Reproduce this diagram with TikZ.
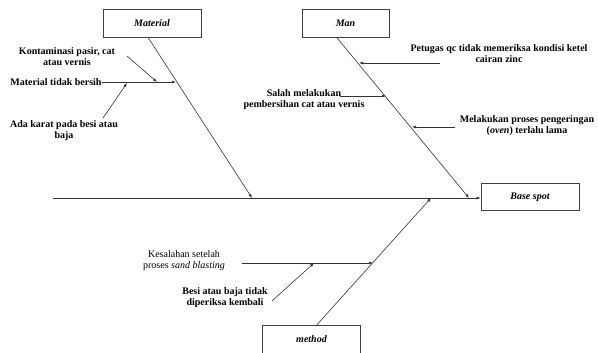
\documentclass[tikz,border=0pt]{standalone}
\usepackage{fontspec}
\setmainfont{Liberation Serif}
\usetikzlibrary{positioning,calc,arrows,arrows.meta}
\tikzstyle{line} = [draw,line width=0.6pt,black!80]
\tikzstyle{arrowline} = [line,-{Latex[length=4pt,width=3pt]}]

\begin{document}
\begin{tikzpicture}[x=1pt,y=-1pt,
                box/.style = {rectangle, draw=black!75, line width=0.6pt, minimum width=98pt, minimum height=28pt,
                  inner sep=0pt, font=\fontsize{10}{11}\selectfont\bfseries\itshape},
                cause/.style = {align=center, inner sep=0pt,
                  font=\fontsize{10}{11}\selectfont\bfseries}]
                \useasboundingbox (0,0) rectangle (598,353);
                % category boxes and head
                \node[box] (node1) at (152,23) {Material};
                \node[box, minimum width=87pt] (node2) at (345.5,23.5) {Man};
                \node[box, minimum height=27pt] (node3) at (530,197) {Base spot};
                \node[box] (node4) at (311.5,339) {method};
                % spine and bones
                \coordinate (spine) at (53,198);
                \coordinate (c1) at (252,198);
                \coordinate (c2) at (469,198);
                \coordinate (c3) at (431,198);
                \path[arrowline] (spine) -- (spine -| node3.west);
                \path[arrowline] ([xshift=-4pt]node1.south) -- (c1);
                \path[arrowline] ([xshift=-8.5pt]node2.south) -- (c2);
                \path[arrowline] ([xshift=5.5pt]node4.north) -- (c3);
                % material causes
                \node[cause] (pattr1) at (67,57) {Kontaminasi pasir, cat\\atau vernis};
                \node[cause] (pattr2) at (56,82) {Material tidak bersih};
                \node[cause] (pattr3) at (64,131) {Ada karat pada besi atau\\baja};
                \coordinate (b1) at (176,82);
                \coordinate (b2) at (157,82);
                \coordinate (b3) at (127,83);
                \path[arrowline] (pattr2.east) -- (b1);
                \path[arrowline] ([xshift=60pt,yshift=1pt]pattr1.center) -- (b2);
                \path[arrowline] ([xshift=39pt,yshift=13pt]pattr3.center) -- (b3);
                % man causes
                \node[cause] (pattr4) at (499,53.5) {Petugas qc tidak memeriksa kondisi ketel\\cairan zinc};
                \node[cause] (pattr5) at (304,99.5) {Salah melakukan\\pembersihan cat atau vernis};
                \node[cause] (pattr6) at (527,125.5) {Melakukan proses pengeringan\\(\textit{oven}) terlalu lama};
                \coordinate (m1) at (359,63);
                \coordinate (m2) at (386,96);
                \coordinate (m3) at (412,127);
                \path[arrowline] ([xshift=-59pt,yshift=-9.5pt]pattr4.center) -- (m1);
                \path[arrowline] ([xshift=36pt,yshift=3.5pt]pattr5.center) -- (m2);
                \path[arrowline] ([xshift=-72pt,yshift=-1.5pt]pattr6.center) -- (m3);
                % method causes
                \node[cause, font=\fontsize{10}{11}\selectfont] (pattr7) at (184,260.5) {Kesalahan setelah\\proses \textit{sand blasting}};
                \node[cause] (pattr8) at (225,298) {Besi atau baja tidak\\diperiksa kembali};
                \coordinate (t1) at (373,263);
                \coordinate (t2) at (314,263);
                \path[arrowline] ([xshift=58pt,yshift=-2.5pt]pattr7.center) -- (t1);
                \path[arrowline] ([xshift=47pt,yshift=-3pt]pattr8.center) -- (t2);
\end{tikzpicture}
\end{document}
